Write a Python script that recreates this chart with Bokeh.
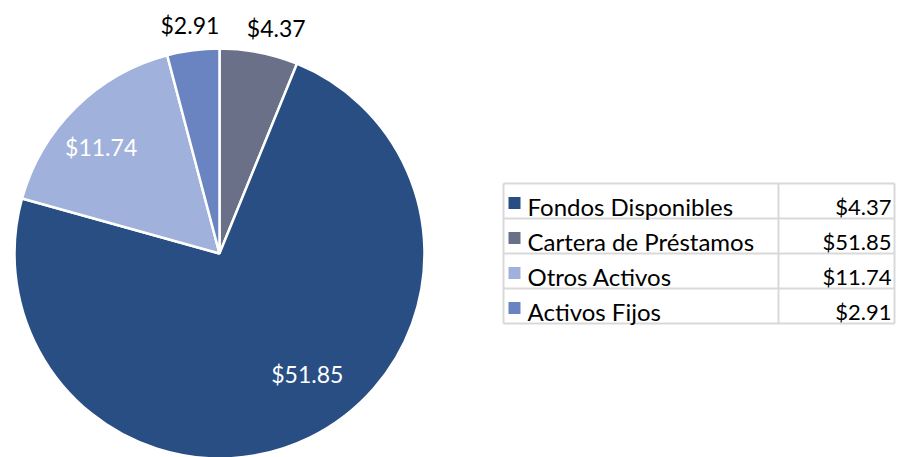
import math
from bokeh.plotting import figure
from bokeh.models import Range1d, ColumnDataSource
from bokeh.core.properties import value
from bokeh.embed import file_html
from bokeh.resources import INLINE

# ---- data ----
categories = ["Fondos Disponibles", "Cartera de Préstamos", "Otros Activos", "Activos Fijos"]
values = [4.37, 51.85, 11.74, 2.91]
value_labels = ["$4.37", "$51.85", "$11.74", "$2.91"]

# ---- styles ----
slice_colors = ["#6B7089", "#294E83", "#A0B2DB", "#6A84C1"]
legend_colors = ["#294E83", "#6B7089", "#A0B2DB", "#6A84C1"]
label_colors = ["#000000", "#FFFFFF", "#FFFFFF", "#000000"]
label_radius = [233, 149, 159, 230]
label_angle_nudge = [3, -10, -3.5, 0]  # degrees
FONT = "Lato"

W, H = 899, 457
p = figure(width=W, height=H, x_range=Range1d(0, W), y_range=Range1d(0, H),
           output_backend="svg", toolbar_location=None, min_border=0,
           outline_line_color=None)
p.axis.visible = False
p.grid.visible = False

def sx(x):
    return x

def sy(y):
    return H - y

# ---- pie ----
cx, cy, R = 219, 253, 205
total = sum(values)
starts, ends, mids = [], [], []
acc = 0.0
for v in values:
    a0 = acc / total * 2 * math.pi
    acc += v
    a1 = acc / total * 2 * math.pi
    starts.append(math.pi / 2 - a0)
    ends.append(math.pi / 2 - a1)
    mids.append((a0 + a1) / 2)

src = ColumnDataSource(dict(start=starts, end=ends, color=slice_colors))
p.wedge(x=sx(cx), y=sy(cy), radius=R, start_angle="start", end_angle="end",
        direction="clock", fill_color="color", line_color="white", line_width=2.5,
        source=src)

lx, ly = [], []
for m, r, n in zip(mids, label_radius, label_angle_nudge):
    a = m + math.radians(n)
    lx.append(sx(cx + r * math.sin(a)))
    ly.append(sy(cy - r * math.cos(a)))
p.text(x=lx, y=ly, text=value_labels, text_color=label_colors,
       text_font=value(FONT), text_font_size="23px",
       text_align="center", text_baseline="middle")

# ---- legend table ----
tl, tdiv, tr = 503, 778, 894
ttop, row_h = 183, 35
nrows = len(categories)
tbot = ttop + row_h * nrows
grid_col = "#D9D9D9"
xs = [[sx(tl), sx(tr)] for i in range(nrows + 1)]
ys = [[sy(ttop + i * row_h)] * 2 for i in range(nrows + 1)]
xs += [[sx(tl)] * 2, [sx(tdiv)] * 2, [sx(tr)] * 2]
ys += [[sy(ttop), sy(tbot)]] * 3
p.multi_line(xs=xs, ys=ys, line_color=grid_col, line_width=2)

row_tops = [ttop + i * row_h for i in range(nrows)]
p.rect(x=[sx(514)] * nrows, y=[sy(t + 19.5) for t in row_tops], width=12, height=12,
       fill_color=legend_colors, line_color=None)
p.text(x=[sx(527)] * nrows, y=[sy(t + 23) for t in row_tops], text=categories,
       text_color="#000000", text_font=value(FONT), text_font_size="24px",
       text_align="left", text_baseline="alphabetic")
p.text(x=[sx(tr - 3)] * nrows, y=[sy(t + 23) for t in row_tops], text=value_labels,
       text_color="#000000", text_font=value(FONT), text_font_size="22px",
       text_align="right", text_baseline="alphabetic")

open("out.html", "w").write(file_html(p, INLINE))
